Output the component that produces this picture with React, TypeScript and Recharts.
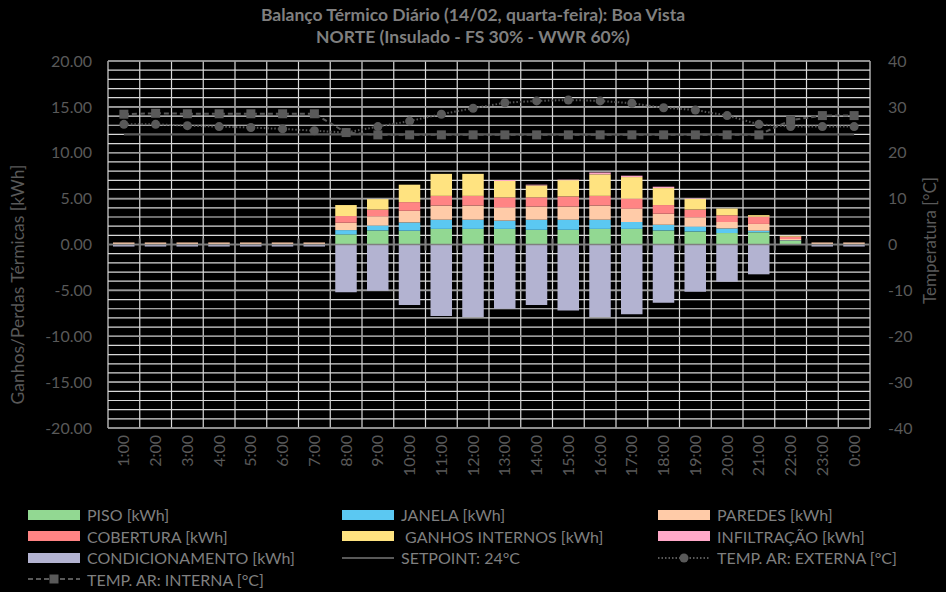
import { ComposedChart, Bar, Line, XAxis, YAxis, CartesianGrid, ReferenceLine } from 'recharts';

const HOURS = [
  '1:00', '2:00', '3:00', '4:00', '5:00', '6:00', '7:00', '8:00', '9:00', '10:00', '11:00', '12:00',
  '13:00', '14:00', '15:00', '16:00', '17:00', '18:00', '19:00', '20:00', '21:00', '22:00', '23:00', '0:00',
];

// kWh
const PISO = [0, 0, 0, 0, 0, 0, 0, 1.1, 1.53, 1.5, 1.7, 1.7, 1.7, 1.6, 1.6, 1.7, 1.7, 1.53, 1.42, 1.25, 1.33, 0.4, 0, 0];
const JANELA = [0, 0, 0, 0, 0, 0, 0, 0.47, 0.54, 0.9, 1.0, 1.0, 0.9, 1.1, 1.1, 1.0, 0.75, 0.62, 0.54, 0.5, 0.17, 0.05, 0, 0];
const PAREDES = [0.22, 0.22, 0.22, 0.22, 0.22, 0.22, 0.22, 0.8, 1.0, 1.27, 1.55, 1.55, 1.43, 1.44, 1.44, 1.55, 1.45, 1.2, 1.0, 0.7, 0.74, 0.15, 0.22, 0.22];
const COBERTURA = [0, 0, 0, 0, 0, 0, 0, 0.73, 0.73, 0.95, 1.05, 1.05, 1.1, 1.0, 1.1, 1.05, 1.1, 0.95, 0.85, 0.74, 0.79, 0.25, 0, 0];
const GANHOS = [0, 0, 0, 0, 0, 0, 0, 1.2, 1.15, 1.9, 2.4, 2.4, 1.8, 1.3, 1.77, 2.35, 2.35, 1.85, 1.15, 0.73, 0.17, 0.1, 0, 0];
const INFILTRACAO = [0, 0, 0, 0, 0, 0, 0, 0, 0, 0, 0, 0, 0.1, 0.08, 0.05, 0.2, 0.15, 0.15, 0.05, 0, 0, 0, 0, 0];
const CONDICIONAMENTO = [-0.22, -0.22, -0.22, -0.22, -0.22, -0.22, -0.22, -5.2, -5.05, -6.6, -7.8, -7.9, -7.0, -6.6, -7.2, -7.9, -7.6, -6.35, -5.15, -4.05, -3.25, 0, -0.22, -0.22];

// °C
const SETPOINT = HOURS.map(() => 24);
const EXTERNA = [26.2, 26.2, 25.9, 25.7, 25.5, 25.2, 24.8, 24.4, 25.7, 26.9, 28.4, 29.7, 30.9, 31.3, 31.5, 31.3, 30.8, 29.8, 29.3, 28.1, 26.2, 25.7, 25.7, 25.7];
const INTERNA = [28.4, 28.6, 28.5, 28.5, 28.5, 28.5, 28.5, 24.4, 23.9, 23.9, 23.9, 23.9, 23.9, 23.9, 23.9, 23.9, 23.9, 23.9, 23.9, 23.9, 23.9, 27.1, 28.1, 28.1];

const KWH_TICKS = [-20, -15, -10, -5, 0, 5, 10, 15, 20];
const TEMP_TICKS = [-40, -35, -30, -25, -20, -15, -10, -5, 0, 5, 10, 15, 20, 25, 30, 35, 40];

const C = {
  piso: '#92D892',
  janela: '#5BC8F2',
  paredes: '#FFCBA8',
  cobertura: '#FF8484',
  ganhos: '#FFE380',
  infiltracao: '#FFA8C8',
  cond: '#B3B3D1',
  line: '#595959',
};

const FONT = 'Lato, "Open Sans", sans-serif';
const TICK_COLOR = '#595959';

const data = HOURS.map((hour, i) => ({
  hour,
  piso: PISO[i],
  janela: JANELA[i],
  paredes: PAREDES[i],
  cobertura: COBERTURA[i],
  ganhos: GANHOS[i],
  infiltracao: INFILTRACAO[i],
  cond: CONDICIONAMENTO[i],
  setpoint: SETPOINT[i],
  externa: EXTERNA[i],
  interna: INTERNA[i],
}));

const HourTick = ({ x, y, payload }: any) => (
  <text
    x={x}
    y={y}
    dy="0.35em"
    transform={`rotate(-90, ${x}, ${y})`}
    textAnchor="end"
    fill={TICK_COLOR}
    fontSize={16}
    fontFamily={FONT}
  >
    {payload.value}
  </text>
);

const SquareDot = ({ cx, cy, index }: any) => (
  <rect key={`sq-${index}`} x={cx - 4.5} y={cy - 4.5} width={9} height={9} fill={C.line} />
);

// zero axis line with tick marks at the category boundaries
const ZeroAxis = (props: any) => {
  const { x1, x2, y1 } = props;
  const step = (x2 - x1) / HOURS.length;
  return (
    <g>
      <line x1={x1} x2={x2} y1={y1} y2={y1} stroke="#7F7F7F" strokeWidth={1.5} />
      {Array.from({ length: HOURS.length + 1 }, (_, k) => (
        <line key={k} x1={x1 + k * step} x2={x1 + k * step} y1={y1 - 6} y2={y1 + 6} stroke="#7F7F7F" strokeWidth={2} />
      ))}
    </g>
  );
};

const LEGEND = [
  { label: 'PISO [kWh]', kind: 'box', color: C.piso },
  { label: 'JANELA [kWh]', kind: 'box', color: C.janela },
  { label: 'PAREDES [kWh]', kind: 'box', color: C.paredes },
  { label: 'COBERTURA [kWh]', kind: 'box', color: C.cobertura },
  { label: ' GANHOS INTERNOS [kWh]', kind: 'box', color: C.ganhos },
  { label: 'INFILTRAÇÃO [kWh]', kind: 'box', color: C.infiltracao },
  { label: 'CONDICIONAMENTO [kWh]', kind: 'box', color: C.cond },
  { label: 'SETPOINT: 24°C', kind: 'solid', color: C.line },
  { label: 'TEMP. AR: EXTERNA [°C]', kind: 'dotted', color: C.line },
  { label: 'TEMP. AR: INTERNA [°C]', kind: 'dashed', color: C.line },
];

const LegendIcon = ({ kind, color }: { kind: string; color: string }) => {
  if (kind === 'box') {
    return <span style={{ display: 'inline-block', width: 52, height: 10, background: color, marginRight: 7 }} />;
  }
  return (
    <svg width={52} height={12} style={{ marginRight: 7 }}>
      {kind === 'solid' && <line x1={0} x2={52} y1={6} y2={6} stroke={color} strokeWidth={2} />}
      {kind === 'dotted' && (
        <>
          <line x1={0} x2={52} y1={6} y2={6} stroke={color} strokeWidth={2} strokeDasharray="1.5 2" />
          <circle cx={26} cy={6} r={4.5} fill={color} />
        </>
      )}
      {kind === 'dashed' && (
        <>
          <line x1={0} x2={52} y1={6} y2={6} stroke={color} strokeWidth={2} strokeDasharray="5 3" />
          <rect x={21.5} y={1.5} width={9} height={9} fill={color} />
        </>
      )}
    </svg>
  );
};

export default function App() {
  return (
    <div style={{ position: 'relative', width: 946, height: 592, background: '#000', fontFamily: FONT }}>
      <style>{'body { margin: 0; background: #000; }'}</style>
      <div
        style={{
          position: 'absolute',
          top: 4,
          left: 0,
          width: 946,
          textAlign: 'center',
          color: '#7F7F7F',
          fontWeight: 700,
          fontSize: 17.5,
          lineHeight: '22px',
        }}
      >
        <div>Balanço Térmico Diário (14/02, quarta-feira): Boa Vista</div>
        <div>NORTE (Insulado - FS 30% - WWR 60%)</div>
      </div>

      <ComposedChart
        width={946}
        height={592}
        data={data}
        margin={{ top: 61, right: 0, bottom: 0, left: 0 }}
        barSize={21.5}
        stackOffset="sign"
      >
        <CartesianGrid
          yAxisId="left"
          stroke="#D9D9D9"
          strokeWidth={1.2}
          horizontalCoordinatesGenerator={({ offset }: any) =>
            Array.from({ length: 41 }, (_, k) => offset.top + (k * offset.height) / 40)
          }
          verticalCoordinatesGenerator={({ offset }: any) =>
            Array.from({ length: HOURS.length + 1 }, (_, k) => offset.left + (k * offset.width) / HOURS.length)
          }
        />
        <CartesianGrid
          yAxisId="left"
          stroke="#9A9A9A"
          strokeWidth={1.6}
          vertical={false}
          horizontalCoordinatesGenerator={({ offset }: any) =>
            Array.from({ length: KWH_TICKS.length }, (_, k) => offset.top + (k * offset.height) / (KWH_TICKS.length - 1))
          }
        />
        <XAxis
          dataKey="hour"
          height={164}
          axisLine={false}
          tickLine={false}
          tickSize={0}
          tickMargin={7}
          interval={0}
          tick={<HourTick />}
        />
        <YAxis
          yAxisId="left"
          width={108}
          domain={[-20, 20]}
          ticks={KWH_TICKS}
          tickFormatter={(v: number) => v.toFixed(2)}
          axisLine={false}
          tickLine={false}
          tickSize={0}
          tickMargin={16}
          tick={{ fill: TICK_COLOR, fontSize: 16, fontFamily: FONT }}
          label={{
            content: ({ viewBox }: any) => (
              <text
                x={viewBox.x + 17}
                y={viewBox.y + viewBox.height / 2 + 40}
                transform={`rotate(-90, ${viewBox.x + 17}, ${viewBox.y + viewBox.height / 2 + 40})`}
                textAnchor="middle"
                dominantBaseline="central"
                fill={TICK_COLOR}
                fontSize={17.5}
                fontFamily={FONT}
              >
                Ganhos/Perdas Térmicas [kWh]
              </text>
            ),
          }}
        />
        <YAxis
          yAxisId="right"
          orientation="right"
          width={76}
          domain={[-40, 40]}
          ticks={TEMP_TICKS}
          axisLine={false}
          tickLine={false}
          tickSize={0}
          tickMargin={18}
          tick={{ fill: TICK_COLOR, fontSize: 16, fontFamily: FONT, textAnchor: 'start' }}
          label={{
            content: ({ viewBox }: any) => (
              <text
                x={viewBox.x + 59}
                y={viewBox.y + viewBox.height / 2 - 4}
                transform={`rotate(-90, ${viewBox.x + 59}, ${viewBox.y + viewBox.height / 2 - 4})`}
                textAnchor="middle"
                dominantBaseline="central"
                fill={TICK_COLOR}
                fontSize={17}
                fontFamily={FONT}
              >
                Temperatura [°C]
              </text>
            ),
          }}
        />

        <Bar yAxisId="left" dataKey="piso" stackId="a" fill={C.piso} isAnimationActive={false} />
        <Bar yAxisId="left" dataKey="janela" stackId="a" fill={C.janela} isAnimationActive={false} />
        <Bar yAxisId="left" dataKey="paredes" stackId="a" fill={C.paredes} isAnimationActive={false} />
        <Bar yAxisId="left" dataKey="cobertura" stackId="a" fill={C.cobertura} isAnimationActive={false} />
        <Bar yAxisId="left" dataKey="ganhos" stackId="a" fill={C.ganhos} isAnimationActive={false} />
        <Bar yAxisId="left" dataKey="infiltracao" stackId="a" fill={C.infiltracao} isAnimationActive={false} />
        <Bar yAxisId="left" dataKey="cond" stackId="a" fill={C.cond} isAnimationActive={false} />

        <ReferenceLine yAxisId="left" y={0} shape={<ZeroAxis />} />

        <Line
          yAxisId="right"
          dataKey="setpoint"
          stroke={C.line}
          strokeWidth={2}
          dot={false}
          activeDot={false}
          isAnimationActive={false}
        />
        <Line
          yAxisId="right"
          dataKey="externa"
          stroke={C.line}
          strokeWidth={2}
          strokeDasharray="1.5 2"
          dot={{ r: 4.5, fill: C.line, stroke: 'none' }}
          activeDot={false}
          isAnimationActive={false}
        />
        <Line
          yAxisId="right"
          dataKey="interna"
          stroke={C.line}
          strokeWidth={2}
          strokeDasharray="5 3"
          dot={<SquareDot />}
          activeDot={false}
          isAnimationActive={false}
        />
      </ComposedChart>

      <div
        style={{
          position: 'absolute',
          top: 504,
          left: 28,
          display: 'grid',
          gridTemplateColumns: '314px 316px 288px',
          gridAutoRows: '21.5px',
          color: '#7F7F7F',
          fontSize: 16,
        }}
      >
        {LEGEND.map((item) => (
          <div key={item.label} style={{ display: 'flex', alignItems: 'center', whiteSpace: 'pre' }}>
            <LegendIcon kind={item.kind} color={item.color} />
            <span>{item.label}</span>
          </div>
        ))}
      </div>
    </div>
  );
}
